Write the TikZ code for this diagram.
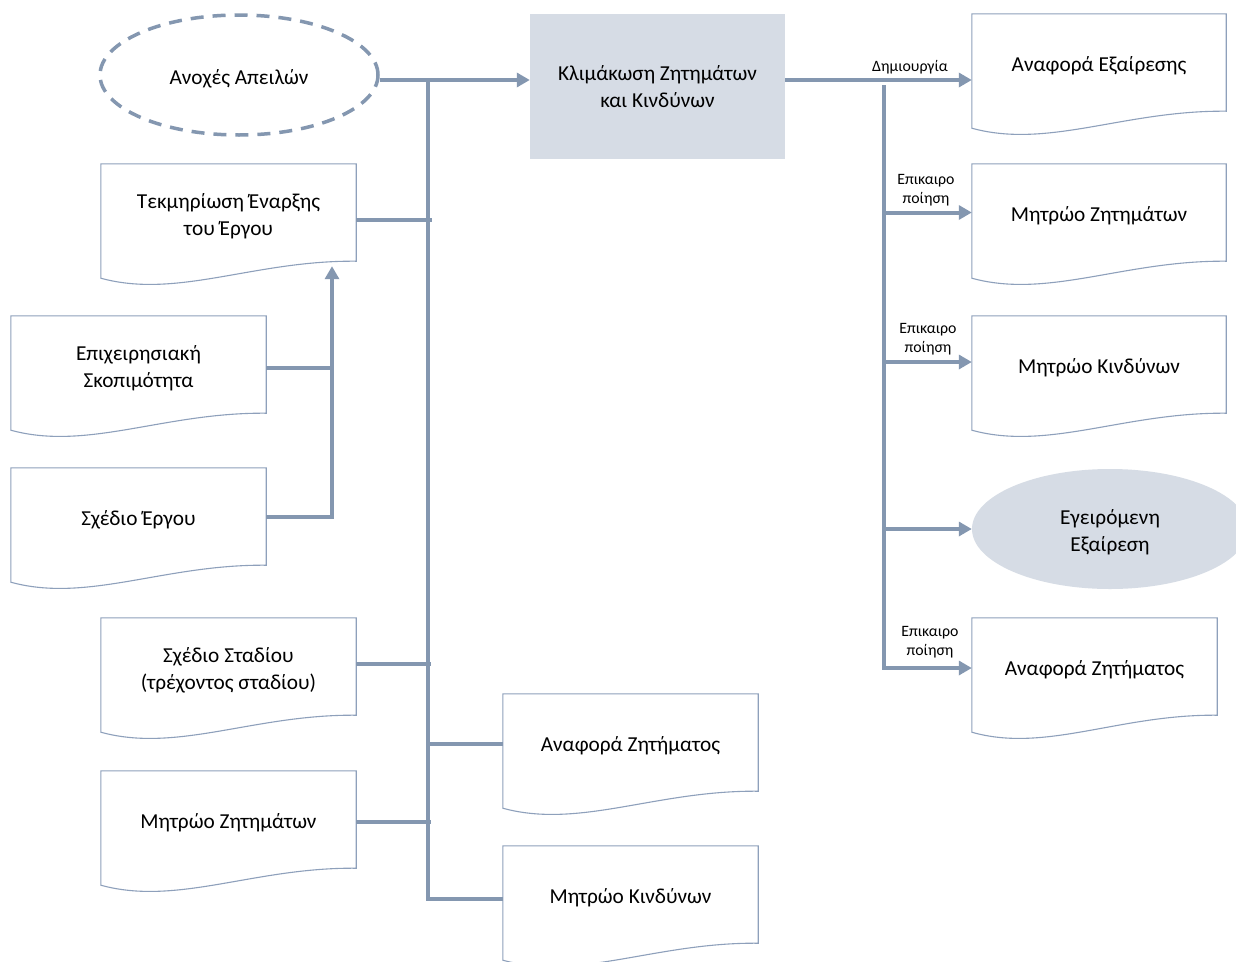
\documentclass[tikz,border=0pt]{standalone}
\usepackage{fontspec}
\setmainfont{Carlito}
\usetikzlibrary{shapes.geometric,arrows.meta,calc}

\definecolor{linec}{HTML}{8497B0}
\definecolor{boxfill}{HTML}{D6DCE5}
\definecolor{docline}{HTML}{8EA0BB}

\newcommand\mainsz{\fontsize{21.3}{27}\selectfont}
\newcommand\smallsz{\fontsize{15.8}{19.5}\selectfont}
% taller first line so that the label sits a little lower in its shape
\newcommand\toppad{\rule{0pt}{22pt}}

\tikzset{
  conn/.style={draw=linec, line width=4pt},
  arr/.style={conn, -{Triangle[length=13pt,width=14pt]}},
  maintext/.style={font=\mainsz, align=center},
  docbox/.style={rectangle, minimum height=97pt, inner sep=0pt, maintext},
  docedge/.style={draw=docline, line width=1.1pt},
  lbl/.style={inner sep=0pt, align=center, font=\smallsz},
}

% document symbol: name, centre x, top y, width, text
\newcommand\docnode[5]{%
  \node[docbox, minimum width=#4pt] (#1) at (#2, #3+48.5) {#5};
  \draw[docedge] (#1.north west) -- (#1.north east) -- (#1.south east)
    .. controls ($(#1.south west)!0.6!(#1.south east)+(0,1pt)$)
    and ($(#1.south west)!0.3!(#1.south east)+(0,-38pt)$)
    .. ($(#1.south west)+(0,-17pt)$) -- cycle;
}

\begin{document}
\begin{tikzpicture}[x=1pt, y=-1pt]
  \fill[white] (0,0) rectangle (1236,961);
  \useasboundingbox (0,0) rectangle (1236,961);

  % inputs and escalation
  \node[ellipse, draw=linec, line width=3.5pt, dash pattern=on 13pt off 9pt,
        minimum width=278pt, minimum height=120pt, inner sep=0pt, maintext]
        (E) at (239,75) {Ανοχές Απειλών\toppad};
  \node[rectangle, fill=boxfill, minimum width=255pt, minimum height=145pt,
        inner sep=0pt, maintext]
        (K) at (657.5,86.5) {Κλιμάκωση Ζητημάτων\\και Κινδύνων};

  \docnode{T}{228.5}{164}{255}{Τεκμηρίωση Έναρξης\toppad\\του Έργου}
  \docnode{EP}{138.5}{316}{255}{Επιχειρησιακή\toppad\\Σκοπιμότητα}
  \docnode{SE}{138.5}{468}{255}{Σχέδιο Έργου\toppad}
  \docnode{SS}{228.5}{618}{255}{Σχέδιο Σταδίου\toppad\\(τρέχοντος σταδίου)}
  \docnode{MZL}{228.5}{771}{255}{Μητρώο Ζητημάτων\toppad}
  \docnode{AZB}{630.5}{694}{255}{Αναφορά Ζητήματος\toppad}
  \docnode{MKB}{630.5}{846}{255}{Μητρώο Κινδύνων\toppad}

  % outputs
  \docnode{AE}{1099}{14}{254}{Αναφορά Εξαίρεσης\toppad}
  \docnode{MZR}{1099}{164}{254}{Μητρώο Ζητημάτων\toppad}
  \docnode{MKR}{1099}{316}{254}{Μητρώο Κινδύνων\toppad}
  \node[ellipse, fill=boxfill, minimum width=276pt, minimum height=120pt,
        inner sep=0pt, maintext]
        (EX) at (1110,529) {Εγειρόμενη\toppad\\Εξαίρεση};
  \docnode{AZR}{1094.5}{618}{245}{Αναφορά Ζητήματος\toppad}

  % left bus
  \coordinate (ltop) at (428,82);
  \coordinate (lbot) at (428,899);
  \coordinate (j) at (332,0);
  \draw[arr] ([yshift=-5pt]E.east) -- ([yshift=-5pt]E.east -| K.west);
  \draw[conn] (ltop) -- (lbot) -- (lbot -| MKB.west);
  \draw[conn] ([yshift=-7pt]T.east) -- ++(76pt,0);
  \draw[conn] ([yshift=2.5pt]SS.east) -- ++(75pt,0);
  \draw[conn] ([yshift=-2.5pt]MZL.east) -- ++(75pt,0);
  \draw[conn] ([yshift=-1.5pt]AZB.west -| ltop) -- ([yshift=-1.5pt]AZB.west);
  \draw[arr] ([yshift=-0.5pt]SE.east) -| ($(j |- T.south)+(0,-5pt)$);
  \draw[conn] ([yshift=-3.5pt]EP.east) -- ([yshift=-3.5pt]EP.east -| j);

  % right bus
  \coordinate (rtop) at (884,85);
  \coordinate (rbot) at (884,668);
  \draw[arr] ([yshift=6.5pt]K.east) -- ([yshift=6.5pt]K.east -| AE.west);
  \draw[arr] (rtop) -- (rbot) -- (rbot -| AZR.west);
  \draw[arr] (MZR.west -| rtop) -- (MZR.west);
  \draw[arr] ([yshift=2.5pt]MKR.west -| rtop) -- ([yshift=2.5pt]MKR.west);
  \draw[arr] (EX.west -| rtop) -- (EX.west);

  % connector labels
  \node[lbl] (l1) at (910,67) {Δημιουργία};
  \node[lbl] (l2) at (926,190) {Επικαιρο\\ποίηση};
  \node[lbl] (l3) at (928,339) {Επικαιρο\\ποίηση};
  \node[lbl] (l4) at (930,642) {Επικαιρο\\ποίηση};
\end{tikzpicture}
\end{document}
